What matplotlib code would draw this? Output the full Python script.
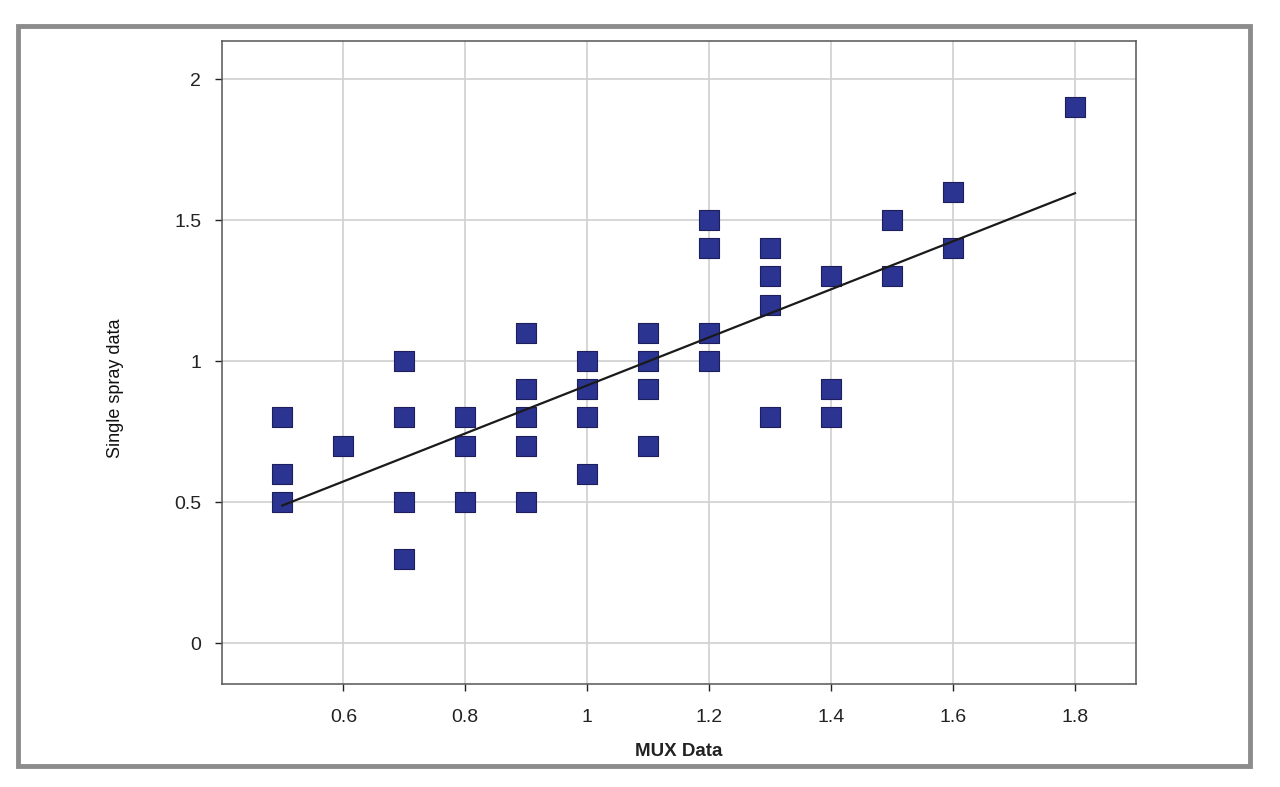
import matplotlib
matplotlib.use("Agg")
import matplotlib.pyplot as plt
from matplotlib.patches import Rectangle
import numpy as np

mux = [0.5, 0.5, 0.5,
       0.6,
       0.7, 0.7, 0.7, 0.7,
       0.8, 0.8, 0.8,
       0.9, 0.9, 0.9, 0.9, 0.9,
       1.0, 1.0, 1.0, 1.0,
       1.1, 1.1, 1.1, 1.1,
       1.2, 1.2, 1.2, 1.2,
       1.3, 1.3, 1.3, 1.3,
       1.4, 1.4, 1.4,
       1.5, 1.5,
       1.6, 1.6,
       1.8]
single = [0.8, 0.6, 0.5,
          0.7,
          1.0, 0.8, 0.5, 0.3,
          0.8, 0.7, 0.5,
          1.1, 0.9, 0.8, 0.7, 0.5,
          1.0, 0.9, 0.8, 0.6,
          1.1, 1.0, 0.9, 0.7,
          1.5, 1.4, 1.1, 1.0,
          1.4, 1.3, 1.2, 0.8,
          1.3, 0.9, 0.8,
          1.5, 1.3,
          1.6, 1.4,
          1.9]
xticks = [0.6, 0.8, 1.0, 1.2, 1.4, 1.6, 1.8]
xticklabels = ["0.6", "0.8", "1", "1.2", "1.4", "1.6", "1.8"]
yticks = [0, 0.5, 1.0, 1.5, 2.0]
yticklabels = ["0", "0.5", "1", "1.5", "2"]

plt.rcParams['font.family'] = ['Liberation Sans', 'DejaVu Sans']

fig = plt.figure(figsize=(12.8, 7.87), dpi=100)
W, H = 1280, 787
# outer gray frame
fig.patches.append(Rectangle((18 / W, 1 - 766 / H), (1250 - 18) / W, (766 - 26) / H,
                             transform=fig.transFigure, fill=False,
                             edgecolor='#8c8c8c', linewidth=3.5))

ax = fig.add_axes([222 / W, 1 - 684 / H, (1136 - 222) / W, (684 - 41) / H])
ax.set_xlim(0.401, 1.9)
ax.set_ylim(-0.145, 2.135)

ax.grid(True, color='#d0d0d0', linewidth=1.2)
ax.set_axisbelow(True)

ax.scatter(mux, single, marker='s', s=220, c='#2B3491',
           edgecolors='#1c1f5c', linewidths=0.8, zorder=3)

coef = np.polyfit(mux, single, 1)
xl = np.array([min(mux), max(mux)])
ax.plot(xl, np.polyval(coef, xl), color='#1a1a1a', linewidth=1.6, zorder=4)

ax.set_xticks(xticks)
ax.set_xticklabels(xticklabels)
ax.set_yticks(yticks)
ax.set_yticklabels(yticklabels)
ax.tick_params(axis='both', labelsize=14, colors='#222222', length=5, width=1, pad=10)
ax.tick_params(axis='x', pad=13)
for s in ax.spines.values():
    s.set_color('#555555')
    s.set_linewidth(1.1)

ax.set_xlabel("MUX Data", fontsize=13.5, fontweight='bold', labelpad=12, color='#222222')
fig.text(115 / W, 1 - 388 / H, "Single spray data", rotation=90, fontsize=13,
         ha='center', va='center', color='#111111', fontweight='medium',
         family=['Liberation Sans Narrow', 'Liberation Sans', 'DejaVu Sans'])

fig.savefig("out.png", dpi=100)
